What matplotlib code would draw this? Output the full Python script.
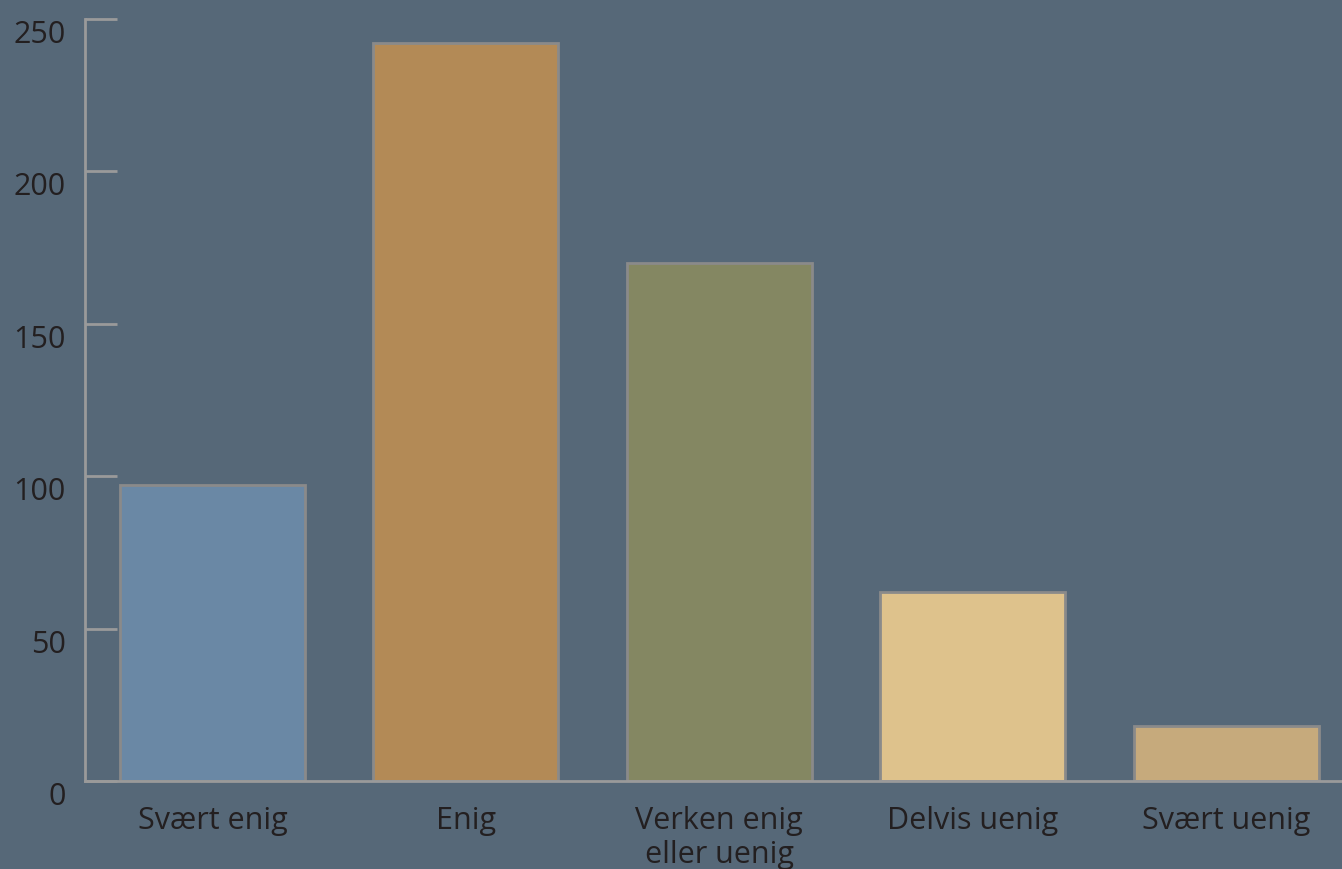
import matplotlib.pyplot as plt

# Data
categories = ['Svært enig', 'Enig', 'Verken enig\neller uenig', 'Delvis uenig', 'Svært uenig']
values = [97, 242, 170, 62, 18]
colors = ['#6a88a5', '#b38a56', '#848762', '#dec28c', '#c6aa7c']
yticks = [0, 50, 100, 150, 200, 250]

bg = '#566878'
plt.rcParams['font.family'] = ['Open Sans', 'DejaVu Sans']

fig = plt.figure(figsize=(13.42, 8.7), dpi=100, facecolor=bg)
ax = fig.add_axes([85 / 1342, 1 - 782 / 870, 1 - 85 / 1342, (782 - 20) / 870])
ax.set_facecolor(bg)

x = range(len(categories))
ax.bar(x, values, width=0.73, color=colors, edgecolor='#8a8a8a', linewidth=2)

ax.set_xlim(-0.503, 4.457)
ax.set_ylim(0, 250)
ax.set_yticks(yticks)
ax.set_xticks(list(x))
ax.set_xticklabels(categories, fontsize=22, color='#231f20', linespacing=1.2)

ax.tick_params(axis='y', direction='in', length=23, width=2, color='#9a9a9a',
               labelsize=22, labelcolor='#231f20', pad=14)
for lab in ax.get_yticklabels():
    lab.set_verticalalignment('top')
ax.tick_params(axis='x', length=0, pad=17)

for s in ['top', 'right']:
    ax.spines[s].set_visible(False)
for s in ['left', 'bottom']:
    ax.spines[s].set_color('#9a9a9a')
    ax.spines[s].set_linewidth(2)

fig.savefig('out.png', dpi=100, facecolor=bg)
